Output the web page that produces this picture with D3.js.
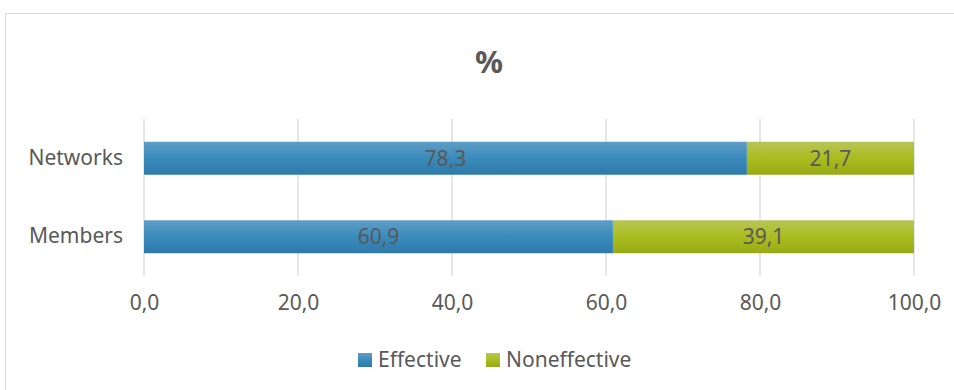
<!DOCTYPE html>
<html>
<head>
<meta charset="utf-8">
<script src="https://cdn.jsdelivr.net/npm/d3@7"></script>
<style>
  body { margin: 0; background: #fff; }
  text { font-family: "Noto Sans", sans-serif; fill: #595959; }
</style>
</head>
<body>
<div id="chart"></div>
<script>
// chart values
var categories = ["Networks", "Members"];
var effective = [78.3, 60.9];
var noneffective = [21.7, 39.1];
var seriesNames = ["Effective", "Noneffective"];
var tickValues = [0, 20, 40, 60, 80, 100];

var width = 954, height = 390;
var plot = {left: 144, right: 914, top: 119, bottom: 276};
var fs = 21;

var svg = d3.select("#chart").append("svg")
    .attr("width", width)
    .attr("height", height);

// gradients like the office style fills
var defs = svg.append("defs");
function grad(id, stops) {
  var g = defs.append("linearGradient").attr("id", id)
      .attr("x1", 0).attr("y1", 0).attr("x2", 0).attr("y2", 1);
  stops.forEach(function(s) {
    g.append("stop").attr("offset", s[0]).attr("stop-color", s[1]);
  });
}
grad("gBlue", [[0, "#5f9dc6"], [0.5, "#3a8bbb"], [1, "#2e79aa"]]);
grad("gGreen", [[0, "#b7c556"], [0.5, "#a9bd1f"], [1, "#97aa16"]]);

// outer frame
svg.append("rect")
    .attr("x", 5.5).attr("y", 13.5)
    .attr("width", 1000).attr("height", 500)
    .attr("fill", "none")
    .attr("stroke", "#d9d9d9");

var x = d3.scaleLinear().domain([0, 100]).range([plot.left, plot.right]);
var y = d3.scaleBand().domain(categories).range([plot.top, plot.bottom])
    .paddingInner(0.58).paddingOuter(0.29);

var fmt = function(d) { return d3.format(".1f")(d).replace(".", ","); };

// gridlines
svg.append("g")
    .selectAll("line")
    .data(tickValues)
    .enter().append("line")
    .attr("x1", function(d) { return x(d); })
    .attr("x2", function(d) { return x(d); })
    .attr("y1", plot.top)
    .attr("y2", plot.bottom)
    .attr("stroke", "#e6e6e6")
    .attr("stroke-width", 2);

// x axis labels
var xAxis = svg.append("g")
    .attr("transform", "translate(0," + (plot.bottom + 9) + ")")
    .call(d3.axisBottom(x).tickValues(tickValues).tickFormat(fmt).tickSize(0).tickPadding(10));
xAxis.select(".domain").remove();
xAxis.selectAll("text").attr("font-size", fs).attr("fill", "#595959");

// y axis labels
var yAxis = svg.append("g")
    .attr("transform", "translate(" + (plot.left - 21) + ",0)")
    .call(d3.axisLeft(y).tickSize(0).tickPadding(0));
yAxis.select(".domain").remove();
yAxis.selectAll("text").attr("font-size", fs).attr("fill", "#595959");
svg.selectAll(".tick text").attr("font-family", null);

// stacked bars
var rows = categories.map(function(c, i) {
  return {cat: c, eff: effective[i], non: noneffective[i]};
});

var bars = svg.append("g");
bars.selectAll(".eff")
    .data(rows)
    .enter().append("rect")
    .attr("class", "eff")
    .attr("x", x(0))
    .attr("y", function(d) { return y(d.cat); })
    .attr("width", function(d) { return x(d.eff) - x(0); })
    .attr("height", y.bandwidth())
    .attr("fill", "url(#gBlue)");

bars.selectAll(".non")
    .data(rows)
    .enter().append("rect")
    .attr("class", "non")
    .attr("x", function(d) { return x(d.eff); })
    .attr("y", function(d) { return y(d.cat); })
    .attr("width", function(d) { return x(d.eff + d.non) - x(d.eff); })
    .attr("height", y.bandwidth())
    .attr("fill", "url(#gGreen)");

// data labels
bars.selectAll(".lblEff")
    .data(rows)
    .enter().append("text")
    .attr("x", function(d) { return (x(0) + x(d.eff)) / 2; })
    .attr("y", function(d) { return y(d.cat) + y.bandwidth() / 2; })
    .attr("dy", "0.35em")
    .attr("text-anchor", "middle")
    .attr("font-size", fs)
    .text(function(d) { return fmt(d.eff); });

bars.selectAll(".lblNon")
    .data(rows)
    .enter().append("text")
    .attr("x", function(d) { return (x(d.eff) + x(d.eff + d.non)) / 2; })
    .attr("y", function(d) { return y(d.cat) + y.bandwidth() / 2; })
    .attr("dy", "0.35em")
    .attr("text-anchor", "middle")
    .attr("font-size", fs)
    .text(function(d) { return fmt(d.non); });

// title
svg.append("text")
    .attr("x", 489)
    .attr("y", 73)
    .attr("text-anchor", "middle")
    .attr("font-size", 31)
    .attr("font-weight", "bold")
    .text("%");

// legend
var legendX = [358, 486];
var legend = svg.append("g");
seriesNames.forEach(function(name, i) {
  legend.append("rect")
      .attr("x", legendX[i]).attr("y", 353)
      .attr("width", 14).attr("height", 14)
      .attr("fill", i === 0 ? "url(#gBlue)" : "url(#gGreen)");
  legend.append("text")
      .attr("x", legendX[i] + 20)
      .attr("y", 360)
      .attr("dy", "0.35em")
      .attr("font-size", fs)
      .text(name);
});
</script>
</body>
</html>
